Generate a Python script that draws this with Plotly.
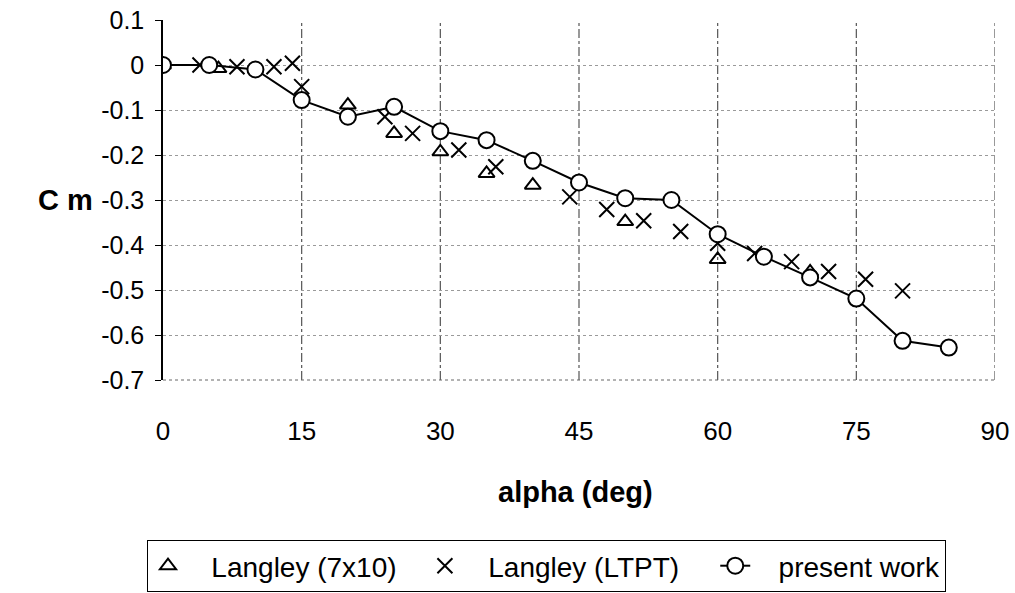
import plotly.graph_objects as go

# Pitching-moment coefficient versus angle of attack
alpha_7x10 = [0, 6, 20, 25, 30, 35, 40, 50, 60, 70]
cm_7x10 = [0.0, -0.008, -0.089, -0.152, -0.193, -0.241, -0.267, -0.348, -0.432, -0.46]

alpha_ltpt = [4, 8, 12, 14, 15, 24, 27, 32, 36, 44, 48, 52, 56, 60, 64, 68, 72, 76, 80]
cm_ltpt = [0.0, -0.004, -0.004, 0.004, -0.048, -0.115, -0.152, -0.189, -0.226, -0.293,
           -0.321, -0.346, -0.370, -0.396, -0.419, -0.437, -0.459, -0.476, -0.502]

alpha_pw = [0, 5, 10, 15, 20, 25, 30, 35, 40, 45, 50, 55, 60, 65, 70, 75, 80, 85]
cm_pw = [0.0, 0.0, -0.01, -0.078, -0.115, -0.093, -0.147, -0.167, -0.213, -0.261,
         -0.296, -0.300, -0.376, -0.426, -0.472, -0.519, -0.613, -0.628]

x_ticks = [0, 15, 30, 45, 60, 75, 90]
y_ticks = [0.1, 0, -0.1, -0.2, -0.3, -0.4, -0.5, -0.6, -0.7]
y_labels = ["0.1", "0", "-0.1", "-0.2", "-0.3", "-0.4", "-0.5", "-0.6", "-0.7"]

FONT = "Liberation Sans, Arial, sans-serif"
SP = "\u00a0"  # non-breaking space used to pad legend entries

fig = go.Figure()

fig.add_trace(go.Scatter(
    x=alpha_7x10, y=cm_7x10, mode="markers", name=SP * 3 + "Langley (7x10)" + SP * 3,
    marker=dict(symbol="triangle-up-open", size=14, color="black",
                line=dict(width=2, color="black")),
))
fig.add_trace(go.Scatter(
    x=alpha_ltpt, y=cm_ltpt, mode="markers", name=SP * 3 + "Langley (LTPT)" + SP * 4,
    marker=dict(symbol="x-thin-open", size=15, color="black",
                line=dict(width=2, color="black")),
))
fig.add_trace(go.Scatter(
    x=alpha_pw, y=cm_pw, mode="lines+markers", name=SP * 3 + "present work",
    line=dict(color="black", width=2),
    marker=dict(symbol="circle", size=16, color="white",
                line=dict(width=2, color="black")),
))

# vertical dash-dot gridlines at the x ticks
for xv in x_ticks[1:]:
    fig.add_shape(type="line", xref="x", yref="paper", x0=xv, x1=xv, y0=0, y1=1,
                  line=dict(color="#555555", width=1.2, dash="dashdot"), layer="below")

fig.update_layout(
    width=1015, height=593,
    margin=dict(l=163, r=20, t=20, b=213),
    paper_bgcolor="white", plot_bgcolor="white",
    font=dict(family=FONT, size=24, color="black"),
    showlegend=True,
    legend=dict(
        orientation="h", xref="container", yref="container",
        x=147 / 1015, xanchor="left", y=1 - 540 / 593, yanchor="top",
        bordercolor="black", borderwidth=1, bgcolor="white",
        font=dict(family=FONT, size=28, color="black"),
        itemwidth=30, tracegroupgap=0,
    ),
    xaxis=dict(
        range=[0, 90], tickvals=x_ticks, ticktext=[str(v) for v in x_ticks],
        showgrid=False, zeroline=False, showline=False, automargin=False,
        ticks="", ticklabelstandoff=33,
        tickfont=dict(family=FONT, size=26),
    ),
    yaxis=dict(
        range=[-0.7, 0.1], tickvals=y_ticks, ticktext=y_labels, automargin=False,
        showgrid=True, gridcolor="#9a9a9a", griddash="dot", gridwidth=1,
        zeroline=False, showline=True, linecolor="black", linewidth=1.5,
        ticks="outside", ticklen=6, tickcolor="black", ticklabelstandoff=6,
        tickfont=dict(family=FONT, size=25),
    ),
)

# bottom edge of the plot area
fig.add_shape(type="line", xref="paper", yref="paper", x0=0, x1=1, y0=0, y1=0,
              line=dict(color="#666666", width=1, dash="dot"))

fig.add_annotation(text="<b>C m</b>", xref="paper", yref="y", x=-0.082, y=-0.3,
                   xanchor="right", yanchor="middle", showarrow=False,
                   font=dict(family=FONT, size=29))
fig.add_annotation(text="<b>alpha (deg)</b>", xref="paper", yref="paper", x=0.496, y=-0.311,
                   xanchor="center", yanchor="middle", showarrow=False,
                   font=dict(family=FONT, size=29))

fig.write_html("out.html")
